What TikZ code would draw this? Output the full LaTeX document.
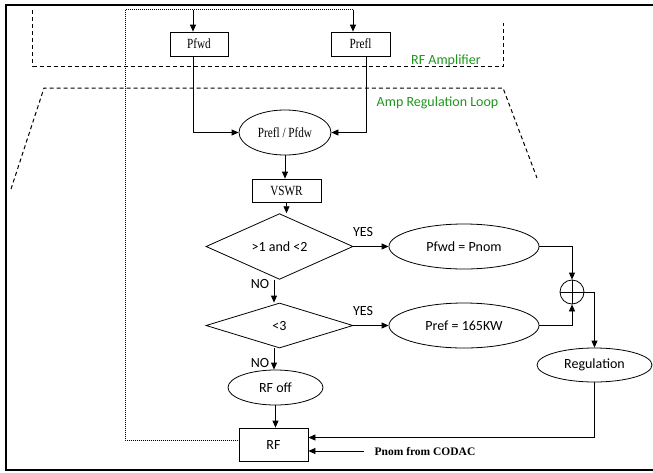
\documentclass[tikz,border=0pt]{standalone}
\usepackage{fontspec}
\usepackage{graphicx}
\setmainfont{Liberation Serif}
\newfontfamily\calib{Carlito}
\usetikzlibrary{shapes.geometric,arrows.meta,calc}
\definecolor{ampgreen}{RGB}{30,150,30}
\newcommand{\narrowtxt}[1]{\scalebox{0.8}[1]{#1}}
\begin{document}
\begin{tikzpicture}[x=1pt,y=-1pt,
  conn/.style={line width=0.8pt},
  arr/.style={conn,-{Triangle[length=7pt,width=6pt]}},
  seriffont/.style={font=\fontsize{14}{16}\selectfont},
  sansfont/.style={font=\calib\fontsize{14}{16}\selectfont},
  sbox/.style={draw,line width=0.8pt,inner sep=0pt},
  sanslbl/.style={sansfont,inner sep=0pt},
  oval/.style={draw,ellipse,line width=0.8pt,inner sep=0pt},
  decision/.style={draw,diamond,line width=0.8pt,inner sep=0pt,minimum width=147pt,minimum height=45pt,sansfont},
  grp/.style={line width=1pt,dash pattern=on 4pt off 3pt},
  fine/.style={line width=0.6pt,dash pattern=on 1pt off 1pt},
]
\useasboundingbox (0,0) rectangle (653,472);
\draw[line width=2pt] (653,5) -- (6,5) -- (6,470) -- (653,470);

% group outlines
\draw[grp] (32.5,10) -- (32.5,66) -- (503,66) -- (503,23);
\node[sanslbl, text=ampgreen] (ampl) at (446,61) {RF Amplifier};
\draw[grp] (11,189) -- (44,88) -- (503,88) -- (537,178);
\node[sanslbl, text=ampgreen] (loop) at (437.5,103) {Amp Regulation Loop};

% nodes
\node[sbox, seriffont, minimum width=58pt, minimum height=24pt] (pfwd) at (199,44) {\narrowtxt{Pfwd}};
\node[sbox, seriffont, minimum width=59pt, minimum height=24pt] (prefl) at (360.5,44) {\narrowtxt{Prefl}};
\node[oval, seriffont, minimum width=92pt, minimum height=45pt] (pdiv) at (285,132.5) {\narrowtxt{Prefl / Pfdw}};
\node[sbox, seriffont, minimum width=69pt, minimum height=23pt] (vswr) at (286.5,190.5) {\narrowtxt{VSWR}};
\node[decision] (d1) at (279.5,246.5) {>1 and <2};
\node[decision] (d2) at (279.5,325.5) {<3};
\node[oval, sansfont, minimum width=150pt, minimum height=45pt] (e1) at (464,246.5) {Pfwd = Pnom};
\node[oval, sansfont, minimum width=150pt, minimum height=45pt] (e2) at (464,325.5) {Pref = 165KW};
\node[oval, sansfont, minimum width=95pt, minimum height=35pt] (rfoff) at (275.5,387.5) {RF off};
\node[sbox, sansfont, minimum width=69pt, minimum height=33pt] (rf) at (273.5,444.5) {RF};
\node[circle, draw, line width=0.8pt, minimum size=24pt, inner sep=0pt] (sum) at (572,292) {};
\draw[line width=0.8pt] (sum.north) -- (sum.south) (sum.west) -- (sum.east);
\node[oval, sansfont, minimum width=115pt, minimum height=34pt] (reg) at (594.5,365) {Regulation};
\node[font=\bfseries\fontsize{11.5}{13}\selectfont, inner xsep=10pt, inner ysep=3pt] (codac) at (425,451) {Pnom from CODAC};

\node[sanslbl] (yes1) at (363,232) {YES};
\node[sanslbl] (yes2) at (363,311) {YES};
\node[sanslbl] (no1) at (260,284) {NO};
\node[sanslbl] (no2) at (260,363) {NO};

% helper coordinates
\coordinate (inA) at (193,9.5);
\coordinate (inB) at (353,9.5);
\coordinate (outB) at (366,43);
\coordinate (dTL) at (125,9.5);
\coordinate (dBL) at (125,440);
\coordinate (noX) at (274,0);
\coordinate (fb) at (0,437.5);

% connectors
\draw[fine] (inB) -- (dTL) -- (dBL) -- (dBL -| rf.west);
\draw[arr] (inA) -- (inA |- pfwd.north);
\draw[arr] (inB) -- (inB |- prefl.north);
\draw[arr] (inA |- pfwd.south) |- (pdiv.west);
\draw[arr] (outB |- prefl.south) |- (pdiv.east);
\draw[arr] (pdiv.south) -- (pdiv.south |- vswr.north);
\draw[arr] (vswr.south) -- (vswr.south |- d1.north);
\draw[arr] (d1.east) -- (e1.west);
\draw[arr] (d2.east) -- (e2.west);
\draw[arr] (noX |- d1.south) -- (noX |- d2.north);
\draw[arr] (noX |- d2.south) -- (noX |- rfoff.north);
\draw[arr] (rfoff.south) -- (rfoff.south |- rf.north);
\draw[arr] (e1.east) -| (sum.north);
\draw[arr] (e2.east) -| (sum.south);
\draw[arr] (sum.east) -| (reg.north);
\draw[arr] (reg.south) |- (fb -| rf.east);
\draw[arr] (codac.west) -- (codac.west -| rf.east);
\end{tikzpicture}
\end{document}
